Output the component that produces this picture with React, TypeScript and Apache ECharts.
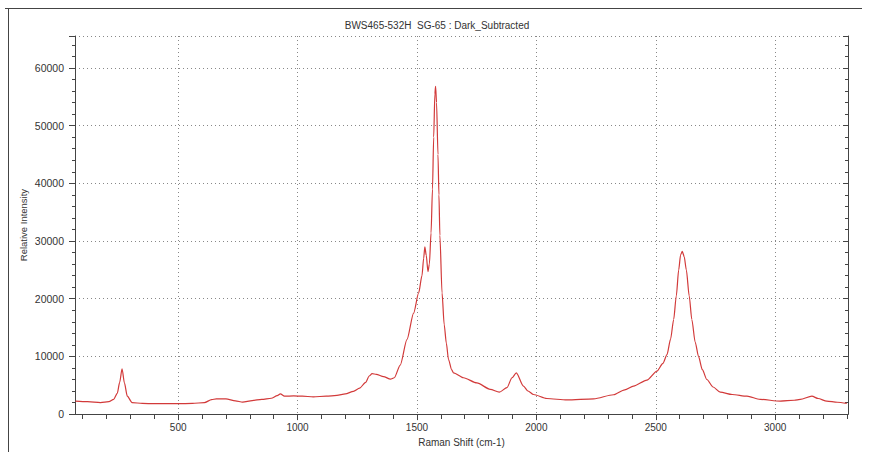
import React, { useEffect, useRef } from 'react';
import * as echarts from 'echarts';

const TITLE = 'BWS465-532H  SG-65 : Dark_Subtracted';
const X_NAME = 'Raman Shift (cm-1)';
const Y_NAME = 'Relative Intensity';

const ramanShift = [
  70, 120, 175, 210, 230, 245, 255, 265, 275, 287, 307, 350, 400, 450, 500, 560, 610, 640, 660, 700,
  740, 770, 810, 850, 890, 915, 928, 945, 984, 1020, 1066, 1120, 1165, 1200, 1234, 1260, 1285, 1300, 1312, 1330,
  1360, 1389, 1405, 1430, 1458, 1486, 1507, 1521, 1528, 1533, 1539, 1546, 1552, 1559, 1565, 1570, 1575, 1578, 1582, 1588,
  1592, 1596, 1605, 1614, 1623, 1632, 1645, 1653, 1695, 1751, 1807, 1845, 1877, 1898, 1916, 1946, 1965, 1988, 2044,
  2128, 2240, 2323, 2370, 2407, 2463, 2505, 2530, 2547, 2562, 2575, 2586, 2596, 2604, 2611, 2619, 2628, 2640, 2651, 2665,
  2679, 2695, 2714, 2740, 2770, 2820, 2882, 2937, 3021, 3080, 3105, 3154, 3180, 3216, 3260, 3300,
];
const intensity = [
  2250, 2150, 2000, 2150, 2550, 3600, 5500, 7850, 5400, 3100, 2000, 1850, 1800, 1820, 1800, 1850, 2000, 2500, 2650, 2650,
  2300, 2080, 2350, 2550, 2750, 3200, 3500, 3100, 3150, 3100, 3000, 3100, 3250, 3500, 3950, 4500, 5500, 6600, 7000, 6900,
  6500, 6050, 6300, 8500, 12900, 17500, 21000, 24000, 27000, 29000, 27500, 24700, 26000, 31400, 39000, 48000, 55500, 56800, 54000, 45000,
  38000, 31000, 21000, 15500, 12300, 9500, 7700, 7150, 6300, 5400, 4300, 3800, 4600, 6300, 7150, 4850, 4000, 3400, 2700,
  2450, 2650, 3350, 4200, 4850, 5900, 7450, 8800, 10300, 13000, 16400, 20500, 25000, 27600, 28200, 27300, 25000, 20500, 16400, 12500,
  10000, 7700, 6000, 4700, 3800, 3400, 3100, 2550, 2250, 2400, 2550, 3100, 2700, 2250, 2050, 1850,
];

const xMajorTicks = [500, 1000, 1500, 2000, 2500, 3000];
const xMinorTicks = [
  100, 200, 300, 400, 500, 600, 700, 800, 900, 1000, 1100, 1200, 1300, 1400, 1500, 1600, 1700,
  1800, 1900, 2000, 2100, 2200, 2300, 2400, 2500, 2600, 2700, 2800, 2900, 3000, 3100, 3200, 3300,
];
const X_MIN = 68;
const X_MAX = 3305;
const Y_MIN = 0;
const Y_MAX = 65536;

const FONT = '"Liberation Sans", Arial, sans-serif';
const AXIS_COLOR = '#444';

export default function App() {
  const ref = useRef<HTMLDivElement>(null);
  useEffect(() => {
    if (!ref.current) return;
    const chart = echarts.init(ref.current, null, { renderer: 'svg' });
    const gridPos = { left: 75, right: 26, top: 36, bottom: 37 };
    const minorX = (gridIndex: number, position: string, inside: boolean) => ({
      type: 'value', gridIndex, position, min: X_MIN, max: X_MAX,
      axisLine: { show: false },
      axisTick: { show: true, customValues: xMinorTicks, inside, length: 4, lineStyle: { color: AXIS_COLOR } },
      axisLabel: { show: false },
      splitLine: { show: false },
    });
    const minorTick = { show: true, splitNumber: 5, length: 3, lineStyle: { color: AXIS_COLOR } };
    chart.setOption({
      animation: false,
      backgroundColor: '#fff',
      title: {
        text: TITLE, left: 'center', top: 15,
        textStyle: { fontSize: 10, fontWeight: 'normal', color: '#333', fontFamily: FONT },
      },
      graphic: [
        { type: 'line', shape: { x1: 5, y1: 8.5, x2: 862, y2: 8.5 }, style: { stroke: '#444', lineWidth: 1 } },
        { type: 'line', shape: { x1: 8.5, y1: 8, x2: 8.5, y2: 452 }, style: { stroke: '#444', lineWidth: 1 } },
      ],
      grid: [ { ...gridPos }, { ...gridPos } ],
      xAxis: [
        {
          type: 'value', gridIndex: 0, position: 'bottom', min: X_MIN, max: X_MAX,
          name: X_NAME, nameLocation: 'middle', nameGap: 21,
          nameTextStyle: { fontSize: 10, color: '#333', fontFamily: FONT },
          axisLine: { show: true, lineStyle: { color: AXIS_COLOR, width: 1 } },
          axisTick: { show: true, customValues: xMajorTicks, length: 6, lineStyle: { color: AXIS_COLOR } },
          axisLabel: {
            customValues: xMajorTicks, fontSize: 10, color: '#333', margin: 8, fontFamily: FONT,
            formatter: (v: number) => String(v),
          },
          splitLine: { show: true, lineStyle: { type: [1, 3], color: '#888', width: 1 } },
        },
        {
          type: 'value', gridIndex: 0, position: 'top', min: X_MIN, max: X_MAX,
          axisLine: { show: true, lineStyle: { color: AXIS_COLOR, width: 1 } },
          axisTick: { show: true, customValues: xMajorTicks, inside: true, length: 5, lineStyle: { color: AXIS_COLOR } },
          axisLabel: { show: false },
          splitLine: { show: false },
        },
        minorX(1, 'bottom', false),
        minorX(1, 'top', true),
      ],
      yAxis: [
        {
          type: 'value', gridIndex: 0, position: 'left', min: Y_MIN, max: Y_MAX, interval: 10000,
          name: Y_NAME, nameLocation: 'middle', nameGap: 47, nameMoveOverlap: false,
          nameTextStyle: { fontSize: 9.5, color: '#333', fontFamily: FONT },
          axisLine: { show: true, lineStyle: { color: AXIS_COLOR, width: 1 } },
          axisTick: { show: true, length: 6, lineStyle: { color: AXIS_COLOR } },
          minorTick,
          axisLabel: {
            fontSize: 10.5, color: '#333', margin: 11, fontFamily: FONT, showMaxLabel: false,
            formatter: (v: number) => String(v),
          },
          splitLine: { show: true, lineStyle: { type: [1, 3], color: '#888', width: 1 } },
        },
        {
          type: 'value', gridIndex: 0, position: 'right', min: Y_MIN, max: Y_MAX, interval: 10000,
          axisLine: { show: true, lineStyle: { color: AXIS_COLOR, width: 1 } },
          axisTick: { show: true, inside: true, length: 5, lineStyle: { color: AXIS_COLOR } },
          minorTick: { ...minorTick },
          axisLabel: { show: false },
          splitLine: { show: false },
        },
        {
          type: 'value', gridIndex: 1, position: 'left', min: Y_MIN, max: Y_MAX, interval: 10000,
          axisLine: { show: false }, axisTick: { show: false }, axisLabel: { show: false }, splitLine: { show: false },
        },
        {
          type: 'value', gridIndex: 1, position: 'right', min: Y_MIN, max: Y_MAX, interval: 10000,
          axisLine: { show: false }, axisTick: { show: false }, axisLabel: { show: false }, splitLine: { show: false },
        },
      ],
      series: [
        {
          type: 'line', xAxisIndex: 0, yAxisIndex: 0,
          data: ramanShift.map((x, i) => [x, intensity[i]]),
          showSymbol: false, smooth: 0.25, smoothMonotone: 'x',
          lineStyle: { color: '#d23a3a', width: 1.2 },
          itemStyle: { color: '#d23a3a' },
        },
        { type: 'line', xAxisIndex: 2, yAxisIndex: 2, data: [], silent: true },
        { type: 'line', xAxisIndex: 3, yAxisIndex: 3, data: [], silent: true },
      ],
    });
    return () => chart.dispose();
  }, []);
  return (
    <div
      ref={ref}
      style={{ position: 'fixed', left: 0, top: 0, width: 874, height: 452, background: '#fff' }}
    />
  );
}
